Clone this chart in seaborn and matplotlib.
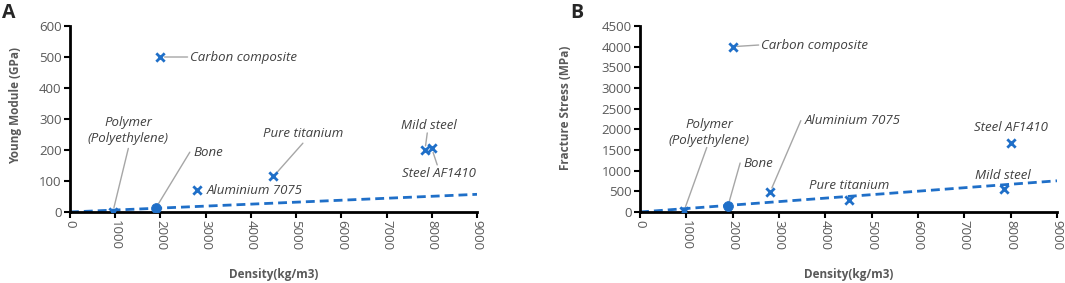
#!/usr/bin/env python3
"""
Material stiffness / strength vs density scatter (two panels A and B).
"""

import pandas as pd
import matplotlib.pyplot as plt
import seaborn as sns

# ─── Data ────────────────────────────────────────────────────────────────────
materials = ["Polymer\n(Polyethylene)", "Bone", "Carbon composite", "Aluminium 7075",
             "Pure titanium", "Mild steel", "Steel AF1410"]
density = [950, 1900, 2000, 2810, 4500, 7850, 8000]
young_gpa = [1, 13, 500, 70, 115, 200, 205]
fracture_mpa = [30, 155, 4000, 490, 285, 555, 1680]

trend_x = [0, 9000]
trend_young = [0, 57]
trend_fracture = [0, 755]

x_ticks = list(range(0, 9001, 1000))
young_ticks = list(range(0, 601, 100))
fracture_ticks = list(range(0, 4501, 500))

# label position (data coords) + where the leader line starts (None = no leader)
young_labels = {
    "Polymer\n(Polyethylene)": ((1290, 262), (1290, 205)),
    "Bone": ((2720, 193), (2650, 193)),
    "Carbon composite": ((2650, 500), (2600, 500)),
    "Aluminium 7075": ((3030, 70), None),
    "Pure titanium": ((5150, 252), (5150, 222)),
    "Mild steel": ((7940, 280), (7900, 255)),
    "Steel AF1410": ((8160, 125), (8120, 152)),
}
fracture_labels = {
    "Polymer\n(Polyethylene)": ((1490, 1935), (1440, 1560)),
    "Bone": ((2230, 1185), (2160, 1185)),
    "Carbon composite": ((2610, 4040), (2560, 4040)),
    "Aluminium 7075": ((3560, 2210), (3470, 2210)),
    "Pure titanium": ((4510, 645), None),
    "Mild steel": ((7835, 895), None),
    "Steel AF1410": ((8000, 2040), None),
}
left_aligned = ("Bone", "Carbon composite", "Aluminium 7075")

BLUE = "#1f6fc8"
GREY_TXT = "#404040"
GREY_TICK = "#595959"

# ─── Plotting ─────────────────────────────────────────────────────────────────
sns.set_style("white")
plt.rcParams["font.family"] = ["Open Sans", "DejaVu Sans"]


def draw_panel(ax, values, trend, yticks, ylabel, labels):
    df = pd.DataFrame({"material": materials, "density": density, "value": values})
    df["is_bone"] = df["material"] == "Bone"
    tr = pd.DataFrame({"density": trend_x, "value": trend})

    sns.lineplot(data=tr, x="density", y="value", ax=ax, color=BLUE,
                 linewidth=2, linestyle=(0, (3.2, 1.8)), zorder=2)
    sns.scatterplot(data=df[~df["is_bone"]], x="density", y="value", ax=ax,
                    marker="x", s=36, color=BLUE, linewidth=2, zorder=3)
    sns.scatterplot(data=df[df["is_bone"]], x="density", y="value", ax=ax,
                    marker="o", s=50, color=BLUE, edgecolor=BLUE, zorder=3)

    for _, row in df.iterrows():
        (tx, ty), lead = labels[row["material"]]
        ha = "left" if row["material"] in left_aligned else "center"
        ax.text(tx, ty, row["material"], ha=ha, va="center", style="italic",
                fontsize=9.5, color=GREY_TXT, linespacing=1.3, zorder=4)
        if lead is not None:
            ax.annotate("", xy=(row["density"], row["value"]), xytext=lead,
                        arrowprops=dict(arrowstyle="-", color="#a6a6a6", lw=1,
                                        shrinkA=0, shrinkB=3), zorder=1)

    ax.set_xlim(0, 9000)
    ax.set_ylim(0, yticks[-1])
    ax.set_xticks(x_ticks)
    ax.set_yticks(yticks)
    ax.set_xticklabels([str(t) for t in x_ticks], rotation=-90)
    ax.tick_params(axis="both", direction="out", length=4, width=1.5,
                   color="black", labelsize=9.5, labelcolor=GREY_TICK,
                   bottom=True, left=True, pad=2)
    for side in ("top", "right"):
        ax.spines[side].set_visible(False)
    for side in ("left", "bottom"):
        ax.spines[side].set_color("black")
        ax.spines[side].set_linewidth(2)

    ax.set_xlabel("Density(kg/m3)", fontsize=8.5, fontweight="bold", color=GREY_TICK)
    ax.set_ylabel(ylabel, fontsize=8.5, fontweight="bold", color=GREY_TICK)
    ax.xaxis.set_label_coords(0.5, -0.30)


def main():
    fig = plt.figure(figsize=(10.65, 2.83), dpi=100)
    ax_a = fig.add_axes([0.0657, 0.2509, 0.3822, 0.6572])
    ax_b = fig.add_axes([0.6010, 0.2509, 0.3915, 0.6572])

    draw_panel(ax_a, young_gpa, trend_young, young_ticks, "Young Module (GPa)", young_labels)
    draw_panel(ax_b, fracture_mpa, trend_fracture, fracture_ticks, "Fracture Stress (MPa)", fracture_labels)
    ax_a.yaxis.set_label_coords(-0.118, 0.575)
    ax_b.yaxis.set_label_coords(-0.163, 0.56)

    fig.text(0.002, 0.99, "A", fontsize=14, fontweight="bold", va="top", ha="left")
    fig.text(0.535, 0.99, "B", fontsize=14, fontweight="bold", va="top", ha="left")

    fig.savefig("out.png", dpi=100)
    plt.close(fig)


if __name__ == "__main__":
    main()
